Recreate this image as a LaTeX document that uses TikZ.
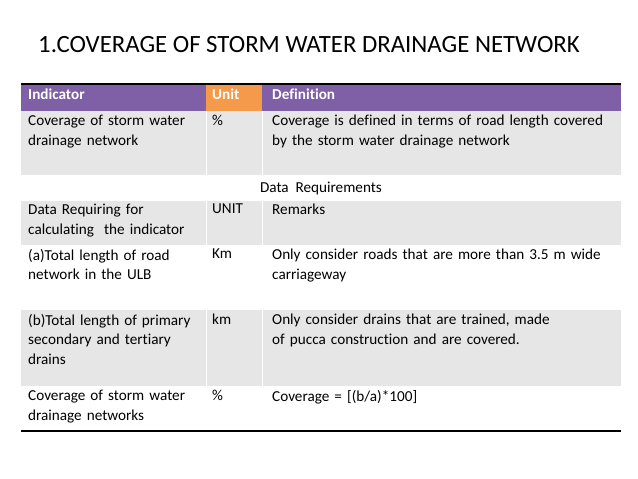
\documentclass[tikz,border=0pt]{standalone}
\usepackage{fontspec}
\setmainfont[Ligatures=NoCommon]{Carlito}
\definecolor{hdr}{HTML}{7F5FA5}
\definecolor{org}{HTML}{F59A4A}
\definecolor{gry}{HTML}{E6E6E6}
\begin{document}
\begin{tikzpicture}[x=1pt,y=-1pt,
  cell/.style={anchor=north west,inner sep=0pt,font=\fontsize{15.2}{19.5}\selectfont,align=left,text width=#1},
  cell/.default=180pt,
  hcell/.style={cell=#1,font=\fontsize{15.2}{19.5}\selectfont\bfseries,text=white},
  hcell/.default=180pt]
\useasboundingbox (0,0) rectangle (638,479);
\fill[white] (0,0) rectangle (638,479);
\node[anchor=west,inner sep=0pt,font=\fontsize{24.8}{28}\selectfont] (title) at (38,45) {1.COVERAGE OF STORM WATER DRAINAGE NETWORK};
% bands
\fill[hdr] (21,84) rectangle (621,111);
\fill[org] (206,84) rectangle (262,111);
\fill[gry] (21,111) rectangle (621,175);
\fill[gry] (21,201) rectangle (621,245);
\fill[gry] (21,310) rectangle (621,386);
\foreach \y/\h in {111/175,201/245,310/386}{
  \draw[white,line width=1pt] (206,\y) -- (206,\h);
  \draw[white,line width=1pt] (262,\y) -- (262,\h);}
\draw[line width=1.5pt] (21,84) -- (621,84);
\draw[line width=1.5pt] (21,431) -- (621,431);
% header
\node[hcell] (h1) at (28,89) {Indicator};
\node[hcell=50pt] (h2) at (212,89) {Unit};
\node[hcell=350pt] (h3) at (272,89) {Definition};
% row 1
\node[cell] (r1a) at (28,115) {Coverage of storm water\\drainage network};
\node[cell=50pt] (r1b) at (212,115) {\%};
\node[cell=350pt] (r1c) at (272,115) {Coverage is defined in terms of road length covered\\by the storm water drainage network};
\node[inner sep=0pt,font=\fontsize{15.2}{19.5}\selectfont] (dr) at (321,188) {Data\ \ Requirements};
% row 3
\node[cell] (r3a) at (28,204) {Data Requiring for\\calculating\ \ the indicator};
\node[cell=50pt] (r3b) at (212,204) {UNIT};
\node[cell=350pt] (r3c) at (272,204) {Remarks};
% row 4
\node[cell] (r4a) at (28,249) {(a)Total length of road\\network in the ULB};
\node[cell=50pt] (r4b) at (212,249) {Km};
\node[cell=350pt] (r4c) at (272,249) {Only consider roads that are more than 3.5 m wide\\carriageway};
% row 5
\node[cell] (r5a) at (28,314) {(b)Total length of primary\\secondary and tertiary\\drains};
\node[cell=50pt] (r5b) at (212,314) {km};
\node[cell=350pt] (r5c) at (272,314) {Only consider drains that are trained, made\\of pucca construction and are covered.};
% row 6
\node[cell] (r6a) at (28,390) {Coverage of storm water\\drainage networks};
\node[cell=50pt] (r6b) at (212,390) {\%};
\node[cell=350pt] (r6c) at (272,390) {Coverage = [(b/a)*100]};
\end{tikzpicture}
\end{document}
